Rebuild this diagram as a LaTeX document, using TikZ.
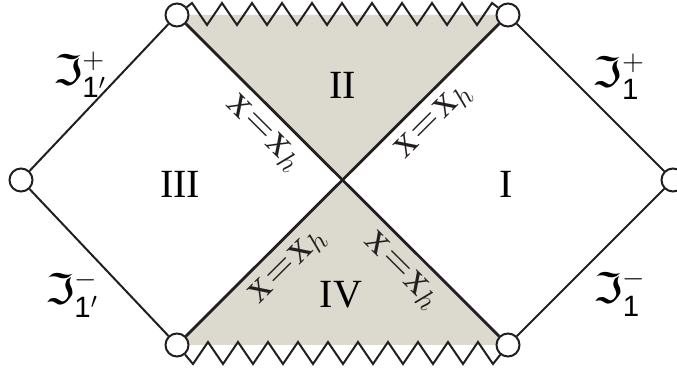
\documentclass[tikz,border=0pt]{standalone}
\usepackage{amsmath}
\usepackage{xcolor}
\usepackage{fontspec}
\setmainfont{Liberation Serif}
\setsansfont{Liberation Sans}
\newfontfamily\scrifont{DejaVu Sans}
\usetikzlibrary{backgrounds}

\begin{document}
\begin{tikzpicture}[x=0.5pt, y=-0.5pt]
    % 定义颜色
    \definecolor{inkgray}{RGB}{35, 31, 32}
    \definecolor{regiongray}{RGB}{220, 218, 207}
    % 自定义命令：类光无穷远与视界标注
    \newcommand{\Scri}[2]{{\scrifont ℑ}$^{#1}_{\mathsf{#2}}$}
    \newcommand{\Horizon}{$\mathrm{x}\mskip1mu{=}\mskip1mu\mathrm{x}_h$}

    % --- 设置全局样式 ---
    % 空心圆点 (HoleStyle)
    \tikzset{HoleStyle/.style = {
        shape=circle,           % 形状：圆
        draw=inkgray,           % 边框颜色
        fill=white,             % 填充颜色
        line width=1pt,         % 边框粗细
        minimum size=11.5pt,    % 直径
        inner sep=0pt
    }}

    % 外边界与视界的连线样式
    \tikzset{ScriStyle/.style = {
        line width=1pt,         % 线条粗细
        color=inkgray           % 线条颜色
    }}
    \tikzset{HorizonStyle/.style = {
        line width=1.4pt,       % 线条粗细
        color=inkgray           % 线条颜色
    }}
    \tikzset{SingularStyle/.style = {
        line width=1pt,         % 锯齿线粗细
        color=inkgray,
        line join=miter
    }}

    % 文字样式
    \tikzset{RegionStyle/.style = {font=\fontsize{20}{24}\selectfont}}
    \tikzset{ScriLabel/.style = {font=\fontsize{21}{25}\selectfont}}
    \tikzset{HorizonLabel/.style = {
        sloped, below=2.5pt, inner sep=2pt,
        font=\fontsize{21}{25}\selectfont
    }}

    \useasboundingbox (0,0) rectangle (677,373);

    % --- 定义节点 (Vertices) ---
    % 上层节点
    \node[HoleStyle] (TL) at (177,15) {};
    \node[HoleStyle] (TR) at (508,15) {};

    % 左右节点
    \node[HoleStyle] (L) at (21,180) {};
    \node[HoleStyle] (R) at (673,180) {};

    % 下层节点
    \node[HoleStyle] (BL) at (177,345) {};
    \node[HoleStyle] (BR) at (508,345) {};

    % 区域编号
    \node[RegionStyle] (regI) at (506,184) {I};
    \node[RegionStyle] (regII) at (343,85) {II};
    \node[RegionStyle] (regIII) at (180,184) {III};
    \node[RegionStyle] (regIV) at (341,295) {IV};

    % 类光无穷远
    \node[ScriLabel] (scriPa) at (80,75) {\Scri{+}{1'}};
    \node[ScriLabel] (scriMa) at (72,294) {\Scri{-}{1'}};
    \node[ScriLabel] (scriPb) at (619,77) {\Scri{+}{1}};
    \node[ScriLabel] (scriMb) at (620,293) {\Scri{-}{1}};

    % --- 定义连线 (Edges) ---
    \draw[ScriStyle] (TL) -- (L) -- (BL); % 左侧边界
    \draw[ScriStyle] (TR) -- (R) -- (BR); % 右侧边界

    % 视界 x = x_h
    \draw[HorizonStyle] (TL) -- (BR)
        node[HorizonLabel, pos=0.30] {\Horizon}
        node[HorizonLabel, pos=0.74] {\Horizon};
    \draw[HorizonStyle] (BL) -- (TR)
        node[HorizonLabel, pos=0.275] {\Horizon}
        node[HorizonLabel, pos=0.74] {\Horizon};

    % 奇点 (锯齿线)
    \draw[SingularStyle] (TL) -- (192,3)
        foreach \k in {0,...,9} { -- ({207+30*\k},25) -- ({222+30*\k},3) } -- (TR);
    \draw[SingularStyle] (BL) -- (193,364)
        foreach \k in {0,...,9} { -- ({208+30*\k},342) -- ({223+30*\k},364) } -- (BR);

    % 阴影区域 II 与 IV
    \begin{scope}[on background layer]
        \fill[regiongray] (TL.center) -- (TR.center) -- (BL.center) -- (BR.center) -- cycle;
    \end{scope}

  \end{tikzpicture}
\end{document}
